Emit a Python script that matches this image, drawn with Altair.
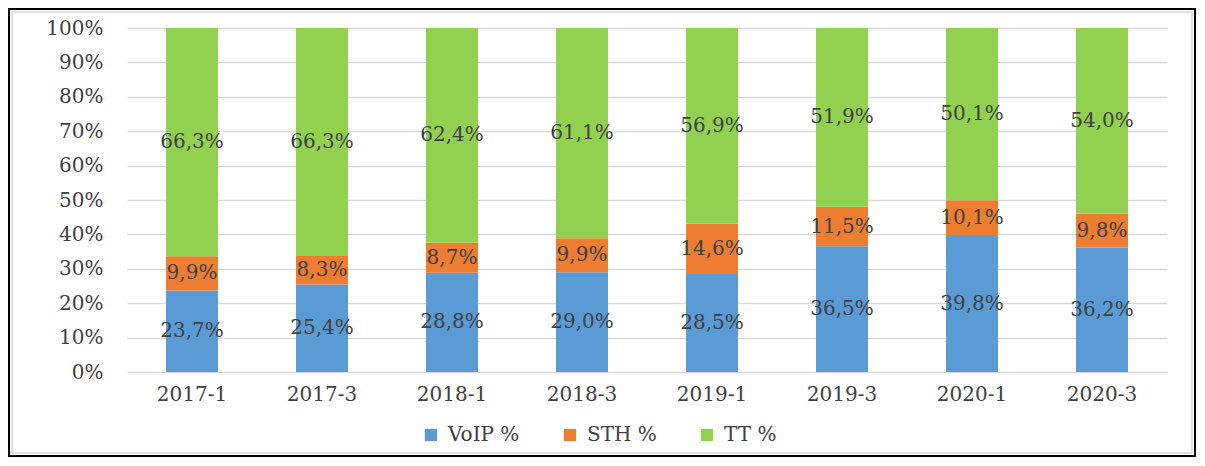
import altair as alt
import pandas as pd

periods = ["2017-1", "2017-3", "2018-1", "2018-3", "2019-1", "2019-3", "2020-1", "2020-3"]
series = ["VoIP %", "STH %", "TT %"]
voip = [23.7, 25.4, 28.8, 29.0, 28.5, 36.5, 39.8, 36.2]
sth = [9.9, 8.3, 8.7, 9.9, 14.6, 11.5, 10.1, 9.8]
tt = [66.3, 66.3, 62.4, 61.1, 56.9, 51.9, 50.1, 54.0]
colors = ["#5B9BD5", "#ED7D31", "#92D050"]
y_ticks = [0, 0.1, 0.2, 0.3, 0.4, 0.5, 0.6, 0.7, 0.8, 0.9, 1.0]

rows = []
for i, p in enumerate(periods):
    for k, (s, vals) in enumerate(zip(series, [voip, sth, tt])):
        v = vals[i]
        rows.append({"period": p, "series": s, "order": k, "value": v,
                     "label": f"{v:.1f}%".replace(".", ",")})
df = pd.DataFrame(rows)

FONT = "DejaVu Serif"
FS = 20
W, H = 1040, 344
PAD = {"left": 119, "top": 20, "right": 30, "bottom": 86}

base = alt.Chart(df).transform_stack(
    stack="value", groupby=["period"], sort=[alt.SortField("order", "ascending")],
    offset="normalize", as_=["y0", "y1"]
).transform_calculate(mid="(datum.y0 + datum.y1) / 2")

x_scale = alt.Scale(paddingInner=0.6, paddingOuter=0.3)
y_scale = alt.Scale(domain=[0, 1])
x_axis = alt.Axis(labelAngle=0, ticks=False, domain=False, grid=False, labelPadding=12,
                  labelFont=FONT, labelFontSize=FS, labelColor="#404040")
y_axis = alt.Axis(values=y_ticks, format=".0%", ticks=False, domain=False,
                  labelOverlap=False, labelPadding=24, labelFont=FONT,
                  labelFontSize=FS, labelColor="#404040",
                  gridColor="#d9d9d9", gridWidth=1.5)

bars = base.mark_bar().encode(
    x=alt.X("period:N", sort=periods, title=None, scale=x_scale, axis=x_axis),
    y=alt.Y("y0:Q", title=None, scale=y_scale, axis=y_axis),
    y2="y1:Q",
    color=alt.Color("series:N", sort=series,
                    scale=alt.Scale(domain=series, range=colors),
                    legend=alt.Legend(title=None, orient="none", direction="horizontal",
                                      legendX=294, legendY=397, symbolType="square",
                                      symbolSize=150, symbolStrokeWidth=0,
                                      labelFont=FONT, labelFontSize=FS, labelColor="#404040",
                                      labelOffset=7, columnPadding=40)),
)

text = base.mark_text(font=FONT, fontSize=FS, color="#404040", baseline="middle").encode(
    x=alt.X("period:N", sort=periods, title=None, scale=x_scale, axis=x_axis),
    y=alt.Y("mid:Q", title=None, scale=y_scale, axis=y_axis),
    text="label:N",
)

one = alt.Data(values=[{"a": 1}])
border = alt.Chart(one).mark_rect(fillOpacity=0, stroke="black", strokeWidth=2).encode(
    x=alt.value(-118), x2=alt.value(W + PAD["right"] - 2),
    y=alt.value(-19), y2=alt.value(H + PAD["bottom"] - 2),
)
inner = alt.Chart(one).mark_rect(fillOpacity=0, stroke="#bfbfbf", strokeWidth=1).encode(
    x=alt.value(-115), x2=alt.value(W + PAD["right"] - 5),
    y=alt.value(-16), y2=alt.value(H + PAD["bottom"] - 5),
)

chart = alt.layer(inner, border, bars, text).properties(
    width=W, height=H,
    autosize=alt.AutoSizeParams(type="none"),
    padding=PAD,
    background="white",
).configure_view(stroke="transparent", strokeWidth=0)

chart.save("out.html", embed_options={"renderer": "svg", "actions": False})
